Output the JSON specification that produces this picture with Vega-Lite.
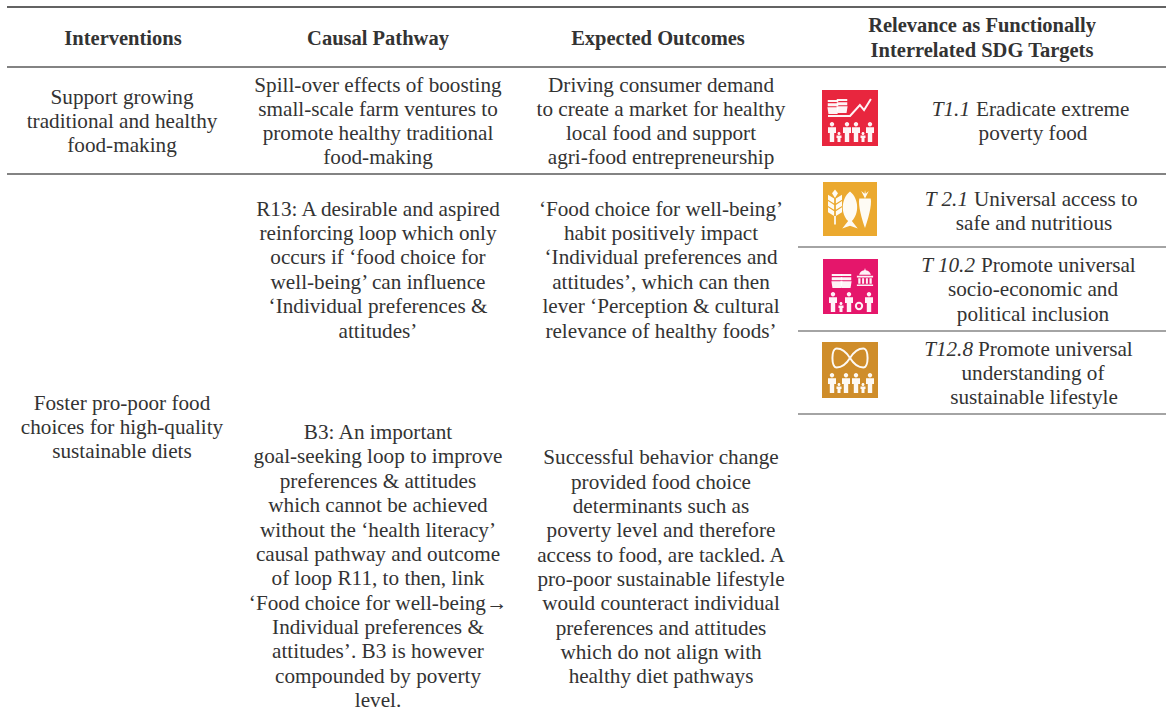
{
"$schema":"https://vega.github.io/schema/vega-lite/v6.json",
"width":1169,"height":713,"padding":0,"autosize":{"type":"fit","contains":"padding"},
"background":"white","view":{"stroke":null},
"config":{"text":{"font":"Liberation Serif","fontSize":21.2,"color":"#333333","baseline":"middle","dy":1}},
"resolve":{"scale":{"color":"independent","shape":"independent","size":"independent","strokeWidth":"independent"}},
"datasets":{
"rules":[{"x":7,"x2":1166,"y":7,"level":"top"},{"x":7,"x2":1166,"y":67,"level":"major"},{"x":7,"x2":1166,"y":174,"level":"major"},{"x":798,"x2":1166,"y":247,"level":"minor"},{"x":798,"x2":1166,"y":331,"level":"minor"},{"x":798,"x2":1166,"y":414,"level":"minor"}],
"heads":[{"x":123,"y":38,"t":"Interventions"},{"x":378,"y":38,"t":"Causal Pathway"},{"x":658,"y":38,"t":"Expected Outcomes"},{"x":982,"y":25,"t":"Relevance as Functionally"},{"x":982,"y":50,"t":"Interrelated SDG Targets"}],
"body":[
{"x":122,"y":97,"t":"Support growing"},{"x":122,"y":121,"t":"traditional and healthy"},{"x":122,"y":145,"t":"food-making"},
{"x":378,"y":85,"t":"Spill-over effects of boosting"},{"x":378,"y":109,"t":"small-scale farm ventures to"},{"x":378,"y":133,"t":"promote healthy traditional"},{"x":378,"y":157,"t":"food-making"},
{"x":661,"y":85,"t":"Driving consumer demand"},{"x":661,"y":109,"t":"to create a market for healthy"},{"x":661,"y":133,"t":"local food and support"},{"x":661,"y":157,"t":"agri-food entrepreneurship"},
{"x":1033,"y":133,"t":"poverty food"},
{"x":1034,"y":223,"t":"safe and nutritious"},
{"x":1033,"y":289,"t":"socio-economic and"},{"x":1033,"y":314,"t":"political inclusion"},
{"x":1033,"y":373,"t":"understanding of"},{"x":1034,"y":397,"t":"sustainable lifestyle"},
{"x":122,"y":403,"t":"Foster pro-poor food"},{"x":122,"y":427,"t":"choices for high-quality"},{"x":122,"y":451,"t":"sustainable diets"},
{"x":378,"y":209,"t":"R13: A desirable and aspired"},{"x":378,"y":233,"t":"reinforcing loop which only"},{"x":378,"y":257,"t":"occurs if ‘food choice for"},{"x":378,"y":282,"t":"well-being’ can influence"},{"x":378,"y":306,"t":"‘Individual preferences &"},{"x":378,"y":331,"t":"attitudes’"},
{"x":661,"y":209,"t":"‘Food choice for well-being’"},{"x":661,"y":233,"t":"habit positively impact"},{"x":661,"y":257,"t":"‘Individual preferences and"},{"x":661,"y":282,"t":"attitudes’, which can then"},{"x":661,"y":306,"t":"lever ‘Perception & cultural"},{"x":661,"y":331,"t":"relevance of healthy foods’"},
{"x":378,"y":432,"t":"B3: An important"},{"x":378,"y":456,"t":"goal-seeking loop to improve"},{"x":378,"y":481,"t":"preferences & attitudes"},{"x":378,"y":505,"t":"which cannot be achieved"},{"x":378,"y":530,"t":"without the ‘health literacy’"},{"x":378,"y":554,"t":"causal pathway and outcome"},{"x":378,"y":578,"t":"of loop R11, to then, link"},{"x":378,"y":603,"t":"‘Food choice for well-being→"},{"x":378,"y":627,"t":"Individual preferences &"},{"x":378,"y":651,"t":"attitudes’. B3 is however"},{"x":378,"y":676,"t":"compounded by poverty"},{"x":378,"y":700,"t":"level."},
{"x":661,"y":457,"t":"Successful behavior change"},{"x":661,"y":482,"t":"provided food choice"},{"x":661,"y":506,"t":"determinants such as"},{"x":661,"y":530,"t":"poverty level and therefore"},{"x":661,"y":555,"t":"access to food, are tackled. A"},{"x":661,"y":579,"t":"pro-poor sustainable lifestyle"},{"x":661,"y":603,"t":"would counteract individual"},{"x":661,"y":628,"t":"preferences and attitudes"},{"x":661,"y":652,"t":"which do not align with"},{"x":661,"y":676,"t":"healthy diet pathways"}
],
"italic":[{"x":970,"y":109,"t":"T1.1"},{"x":968,"y":199,"t":"T 2.1"},{"x":975,"y":265,"t":"T 10.2"},{"x":973,"y":349,"t":"T12.8"}],
"rest":[{"x":976,"y":109,"t":"Eradicate extreme"},{"x":974,"y":199,"t":"Universal access to"},{"x":981,"y":265,"t":"Promote universal"},{"x":978,"y":349,"t":"Promote universal"}],
"icons":[{"x":822,"x2":878,"y":90,"y2":146,"sdg":"1"},{"x":823,"x2":877,"y":182,"y2":236,"sdg":"2"},{"x":823,"x2":878,"y":259,"y2":314,"sdg":"10"},{"x":822,"x2":878,"y":342,"y2":398,"sdg":"12"}],
"glyphs":[
{"x":832,"y":132,"g":"adult"},{"x":847,"y":132,"g":"adult"},{"x":856,"y":132,"g":"adult"},{"x":870,"y":132,"g":"adult"},{"x":839,"y":137,"g":"child"},{"x":863,"y":137,"g":"child"},
{"x":833,"y":107,"g":"bowl"},{"x":842,"y":106,"g":"bowl"},
{"x":832,"y":383,"g":"adult"},{"x":846,"y":383,"g":"adult"},{"x":856,"y":383,"g":"adult"},{"x":870,"y":383,"g":"adult"},{"x":839,"y":388,"g":"child"},{"x":863,"y":388,"g":"child"},
{"x":833,"y":302,"g":"adult"},{"x":849,"y":302,"g":"adult"},{"x":869,"y":302,"g":"adult"},{"x":841,"y":307,"g":"child"},
{"x":837,"y":281,"g":"bowl"},{"x":846,"y":281,"g":"bowl"},{"x":865,"y":277,"g":"building"},
{"x":835,"y":207,"g":"wheat"},{"x":850,"y":210,"g":"fish"},{"x":865,"y":209,"g":"carrot"}
],
"lines":[{"x":850,"y":107,"g":"trend"},{"x":850,"y":358,"g":"infinity"},{"x":859,"y":306,"g":"wheel"}]
},
"encoding":{
"x":{"field":"x","type":"quantitative","axis":null,"scale":{"domain":[0,1169],"nice":false,"zero":false}},
"y":{"field":"y","type":"quantitative","axis":null,"scale":{"domain":[0,713],"nice":false,"zero":false,"reverse":true}}
},
"layer":[
{"data":{"name":"rules"},"mark":{"type":"rule"},"encoding":{"x2":{"field":"x2"},
"color":{"field":"level","type":"nominal","legend":null,"scale":{"domain":["top","major","minor"],"range":["#2f2f2f","#5a5a5a","#4a4a4a"]}},
"strokeWidth":{"field":"level","type":"nominal","legend":null,"scale":{"type":"ordinal","domain":["top","major","minor"],"range":[1.6,1.4,1.1]}}}},
{"data":{"name":"icons"},"mark":{"type":"rect"},"encoding":{"x2":{"field":"x2"},"y2":{"field":"y2"},
"color":{"field":"sdg","type":"nominal","legend":null,"scale":{"domain":["1","2","10","12"],"range":["#E8263E","#EBA92F","#E5166B","#CF8D2A"]}}}},
{"data":{"name":"glyphs"},"mark":{"type":"point","filled":true,"fill":"white","opacity":0.95,"strokeWidth":0},"encoding":{
"shape":{"field":"g","type":"nominal","legend":null,"scale":{"domain":["adult","child","bowl","building","wheat","fish","carrot"],"range":[
"M-0.22,-0.78a0.22,0.22 0 1,0 0.44,0a0.22,0.22 0 1,0 -0.44,0Z M-0.4,-0.48L0.4,-0.48L0.4,0.1L0.22,0.1L0.22,1L-0.22,1L-0.22,0.1L-0.4,0.1Z",
"M-0.3,-0.72a0.3,0.3 0 1,0 0.6,0a0.3,0.3 0 1,0 -0.6,0Z M-0.5,-0.3L0.5,-0.3L0.5,0.2L0.3,0.2L0.3,1L-0.3,1L-0.3,0.2L-0.5,0.2Z",
"M-0.75,-1L0.75,-1L0.75,-0.7L-0.75,-0.7Z M-0.75,-0.55L0.75,-0.55L0.75,-0.1L-0.75,-0.1Z M-0.8,0.05L0.8,0.05L0.65,1L-0.65,1Z",
"M0,-1L0.08,-0.75C0.4,-0.7 0.6,-0.5 0.65,-0.25L-0.65,-0.25C-0.6,-0.5 -0.4,-0.7 -0.08,-0.75Z M-0.9,-0.15L0.9,-0.15L0.9,0.05L-0.9,0.05Z M-0.75,0.15L-0.5,0.15L-0.5,0.75L-0.75,0.75Z M-0.32,0.15L-0.1,0.15L-0.1,0.75L-0.32,0.75Z M0.1,0.15L0.32,0.15L0.32,0.75L0.1,0.75Z M0.5,0.15L0.75,0.15L0.75,0.75L0.5,0.75Z M-0.9,0.82L0.9,0.82L0.9,1L-0.9,1Z",
"M0,-1L0.17,-0.78L0,-0.52L-0.17,-0.78Z M0.05,-0.48L0.4,-0.7L0.4,-0.42L0.05,-0.2Z M-0.05,-0.48L-0.4,-0.7L-0.4,-0.42L-0.05,-0.2Z M0.05,-0.12L0.4,-0.34L0.4,-0.06L0.05,0.16Z M-0.05,-0.12L-0.4,-0.34L-0.4,-0.06L-0.05,0.16Z M0.05,0.24L0.4,0.02L0.4,0.3L0.05,0.52Z M-0.05,0.24L-0.4,0.02L-0.4,0.3L-0.05,0.52Z M-0.05,0.52L0.05,0.52L0.05,1L-0.05,1Z",
"M0,-1C0.5,-0.6 0.5,0.2 0.1,0.6L0.42,1L0,0.85L-0.42,1L-0.1,0.6C-0.5,0.2 -0.5,-0.6 0,-1Z",
"M-0.3,-0.55L0.3,-0.55C0.38,-0.2 0.15,0.6 0,1C-0.15,0.6 -0.38,-0.2 -0.3,-0.55Z M0,-0.55L-0.2,-0.95L-0.02,-0.8L0,-1L0.04,-0.8L0.2,-0.95Z"
]}},
"size":{"field":"g","type":"nominal","legend":null,"scale":{"type":"ordinal","domain":["adult","child","bowl","building","wheat","fish","carrot"],"range":[400,100,196,324,1225,1369,1444]}}
}},
{"data":{"name":"lines"},"mark":{"type":"point","filled":false,"fill":null,"stroke":"white","strokeWidth":2,"opacity":0.95},"encoding":{
"shape":{"field":"g","type":"nominal","legend":null,"scale":{"domain":["trend","infinity","wheel"],"range":[
"M-1,0.41L0,0.41L0.45,-0.09L0.64,0.14L0.95,-0.36",
"M0,0C-0.25,-0.4 -0.5,-0.5 -0.7,-0.5C-1,-0.5 -1,0.5 -0.7,0.5C-0.5,0.5 -0.25,0.4 0,0C0.25,-0.4 0.5,-0.5 0.7,-0.5C1,-0.5 1,0.5 0.7,0.5C0.5,0.5 0.25,0.4 0,0Z",
"M-0.6,0a0.6,0.6 0 1,0 1.2,0a0.6,0.6 0 1,0 -1.2,0Z"
]}},
"size":{"field":"g","type":"nominal","legend":null,"scale":{"type":"ordinal","domain":["trend","infinity","wheel"],"range":[1936,1444,110]}}
}},
{"data":{"name":"heads"},"mark":{"type":"text","align":"center","fontWeight":"bold","fontSize":20.5},"encoding":{"text":{"field":"t"}}},
{"data":{"name":"body"},"mark":{"type":"text","align":"center"},"encoding":{"text":{"field":"t"}}},
{"data":{"name":"italic"},"mark":{"type":"text","align":"right","fontStyle":"italic"},"encoding":{"text":{"field":"t"}}},
{"data":{"name":"rest"},"mark":{"type":"text","align":"left"},"encoding":{"text":{"field":"t"}}}
]
}
